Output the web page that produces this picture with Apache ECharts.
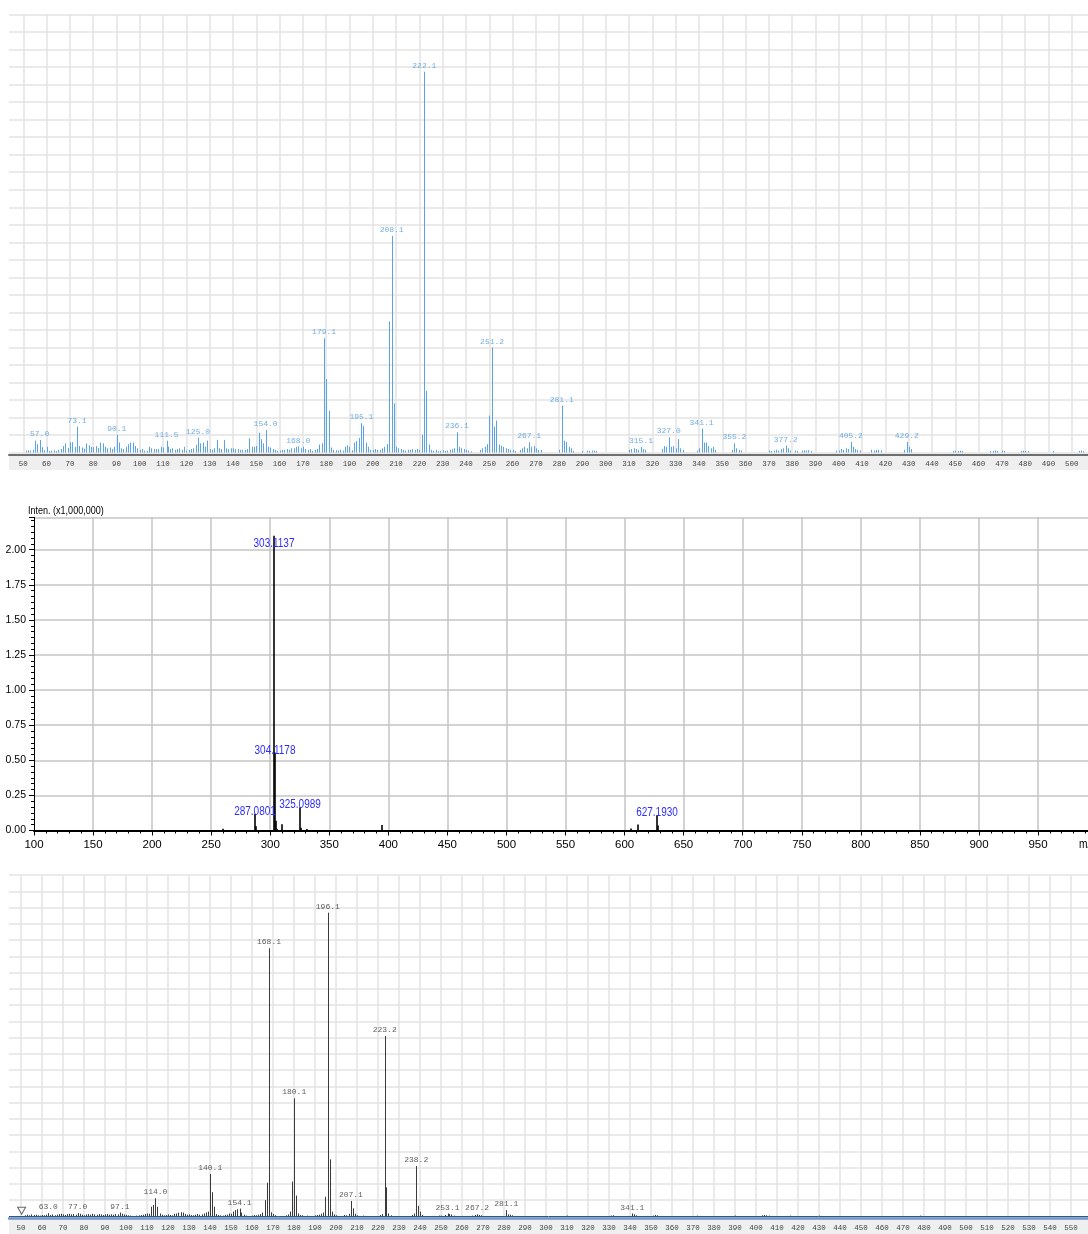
<!DOCTYPE html>
<html><head><meta charset="utf-8">
<script src="https://cdn.jsdelivr.net/npm/echarts@6.0.0/dist/echarts.min.js"></script>
<style>html,body{margin:0;padding:0;background:#fff}#c{width:1088px;height:1234px}</style>
</head><body><div id="c"></div><script>
// ---------- Panel 1 (top, blue, relative intensity %) ----------
const spec1 = [[51,0.5],[52,0.6],[53,0.5],[54,0.7],[55,3.1],[56,2.2],[57.0,3.3],[58,1.4],[59,0.6],[60,1.5],[61,0.4],[62,0.5],[63,0.6],[64,0.4],[65,0.7],[66,0.9],[67,1.7],[68,2.4],[69,1.2],[70,2.7],[71,2.7],[72,1.5],[73.1,6.8],[74,1.7],[75,1.3],[76,1.0],[77,2.4],[78,1.9],[79,1.5],[80,1.4],[81,1.7],[82,1.2],[83,2.6],[84,2.4],[85,1.5],[86,1.1],[87,1.3],[88,0.9],[89,1.5],[90.1,4.6],[91,2.6],[92,1.1],[93,0.9],[94,1.5],[95,2.2],[96,2.6],[97,2.6],[98,1.7],[99,1.1],[100,0.7],[101,0.9],[102,0.5],[103,0.4],[104,1.5],[105,1.1],[106,0.9],[107,0.9],[108,0.9],[109,1.5],[110,1.3],[111.5,3.1],[112,1.5],[113,0.9],[114,1.1],[115,0.7],[116,0.9],[117,1.1],[118,0.7],[119,1.5],[120,0.5],[121,0.7],[122,0.9],[123,1.1],[124,2.0],[125.0,3.9],[126,2.4],[127,2.6],[128,1.5],[129,3.1],[130,0.9],[131,0.7],[132,1.1],[133,3.3],[134,1.1],[135,0.9],[136,3.3],[137,1.1],[138,0.9],[139,1.1],[140,1.1],[141,0.9],[142,0.9],[143,0.7],[144,0.7],[145,0.7],[146,0.9],[147,3.7],[148,1.5],[149,1.5],[150,1.7],[151,5.2],[152,3.5],[153,2.4],[154.0,5.9],[155,1.5],[156,1.3],[157,0.9],[158,0.7],[159,0.4],[160,0.5],[161,0.7],[162,0.7],[163,0.9],[164,0.7],[165,1.1],[166,1.1],[167,1.5],[168.0,1.6],[169,1.1],[170,1.5],[171,0.9],[172,0.7],[173,0.9],[174,0.4],[175,0.7],[176,0.9],[177,2.1],[178,2.4],[179.1,30.0],[180,19.3],[181,11.0],[182,1.3],[183,0.7],[184,0.6],[185,0.5],[186,0.7],[187,0.5],[188,1.5],[189,1.9],[190,1.5],[191,0.6],[192,2.6],[193,3.0],[194,3.8],[195.1,7.7],[196,7.0],[197,2.6],[198,1.5],[199,0.7],[200,0.7],[201,0.9],[202,0.7],[203,0.7],[204,1.1],[205,1.5],[206,2.2],[207,34.4],[208.1,56.9],[209,12.9],[210,1.5],[211,1.1],[212,0.9],[213,0.7],[214,0.5],[215,0.7],[216,0.7],[217,0.9],[218,0.7],[219,0.9],[220,0.7],[221,4.6],[222.1,100],[223,16.2],[224,2.1],[225,0.7],[226,0.5],[227,0.7],[228,0.4],[229,0.4],[230,0.6],[231,0.4],[232,0.5],[233,0.7],[234,0.9],[235,1.1],[236.1,5.3],[237,1.5],[238,1.1],[239,0.9],[240,0.7],[241,0.5],[242,0.3],[246,0.7],[247,1.1],[248,1.5],[249,2.2],[250,9.7],[251.2,27.6],[252,6.8],[253,8.4],[254,2.1],[255,1.8],[256,1.5],[257,1.1],[258,0.9],[259,0.7],[260,0.7],[261,0.4],[263,0.7],[264,1.1],[265,1.5],[266,1.1],[267.1,2.7],[268,1.5],[269,1.7],[270,1.1],[271,0.7],[272,0.7],[280,0.7],[281.1,12.3],[282,3.1],[283,2.8],[284,1.5],[285,1.1],[286,0.4],[290,0.4],[292,0.5],[293,0.4],[294,0.5],[295,0.5],[296,0.4],[310,0.7],[311,0.9],[312,1.1],[313,0.9],[314,0.7],[315.1,1.5],[316,0.9],[317,0.7],[324,0.9],[325,1.7],[326,1.5],[327.0,4.0],[328,1.5],[329,1.7],[330,1.1],[331,3.5],[332,1.1],[333,0.7],[339,0.5],[340,1.1],[341.1,6.3],[342,2.6],[343,2.6],[344,1.7],[345,1.1],[346,1.5],[347,0.7],[354,0.7],[355.2,2.4],[356,1.1],[357,0.7],[358,0.5],[370,0.5],[371,0.4],[372,0.5],[373,0.7],[374,0.5],[375,0.9],[376,1.1],[377.2,1.8],[378,1.1],[379,0.5],[381,0.5],[382,0.4],[384,0.5],[385,0.6],[386,0.5],[387,0.6],[388,0.4],[399,0.5],[400,0.5],[401,0.9],[402,0.7],[403,1.1],[404,0.9],[405.2,2.8],[406,1.5],[407,0.9],[408,0.7],[409,0.5],[414,0.7],[415,0.5],[416,0.7],[417,0.7],[418,0.5],[428,0.7],[429.2,2.8],[430,1.5],[431,0.9],[449,0.4],[450,0.5],[451,0.4],[452,0.5],[453,0.4],[465,0.4],[466,0.4],[467,0.5],[468,0.4],[470,0.5],[471,0.4],[478,0.4],[479,0.5],[480,0.4],[481,0.4],[492,0.4],[503,0.4],[504,0.5],[505,0.4]];
const labels1 = ['57.0','73.1','90.1','111.5','125.0','154.0','168.0','179.1','195.1','208.1','222.1','236.1','251.2','267.1','281.1','315.1','327.0','341.1','355.2','377.2','405.2','429.2'];
const range1 = [43.86, 506.96];

// ---------- Panel 2 (middle, Inten. x1,000,000) ----------
const spec2 = [[260,0.012],[287.0801,0.12],[288.08,0.03],[303.1137,2.10],[304.1178,0.555],[305.12,0.07],[306.12,0.012],[309.6,0.045],[325.0989,0.165],[326.10,0.02],[331,0.01],[394.5,0.04],[605.5,0.015],[611.5,0.042],[627.1930,0.107],[628.2,0.035]];
const labels2 = ['287.0801','303.1137','304.1178','325.0989','627.1930'];
const range2 = [100, 992.3];

// ---------- Panel 3 (bottom, black, relative intensity %) ----------
const spec3 = [[52,0.4],[53,0.6],[54,0.4],[55,0.7],[56,0.5],[57,0.6],[58,0.4],[59,0.3],[60,0.5],[61,0.4],[62,0.6],[63.0,1.1],[64,0.5],[65,0.7],[66,0.4],[67,0.6],[68,0.8],[69,0.9],[70,0.7],[71,0.5],[72,0.8],[73,0.9],[74,0.7],[75,0.8],[76,0.6],[77.0,1.1],[78,0.9],[79,0.6],[80,0.4],[81,0.7],[82,0.8],[83,0.6],[84,0.9],[85,0.7],[86,0.6],[87,0.8],[88,0.7],[89,0.5],[90,0.7],[91,0.8],[92,0.6],[93,0.7],[94,0.6],[95,0.8],[96,0.7],[97.1,1.3],[98,0.9],[99,0.7],[100,0.5],[101,0.4],[102,0.3],[103,0.2],[105,0.3],[106,0.4],[107,0.5],[108,0.6],[109,0.8],[110,1.0],[111,0.9],[112,3.2],[113,3.8],[114.0,6.0],[115,3.2],[116,1.0],[117,0.6],[118,0.4],[119,0.5],[120,0.7],[121,0.5],[122,0.4],[123,0.9],[124,1.0],[125,1.3],[126,1.4],[127,1.3],[128,0.8],[129,0.6],[130,0.7],[131,0.5],[132,0.4],[133,0.6],[134,0.8],[135,0.6],[136,0.7],[137,1.0],[138,1.3],[139,1.6],[140.1,14.0],[141,8.0],[142,3.2],[143,0.8],[144,0.5],[145,0.4],[146,0.3],[147,0.5],[148,0.6],[149,1.0],[150,0.9],[151,1.6],[152,2.1],[153,2.4],[154.1,2.6],[155,1.3],[156,0.6],[157,0.3],[160,0.3],[161,0.5],[162,0.4],[163,0.6],[164,0.8],[165,1.3],[166,5.4],[167,11.1],[168.1,88.3],[169,1.4],[170,0.8],[171,0.4],[176,0.4],[177,0.7],[178,1.6],[179,11.5],[180.1,38.9],[181,6.9],[182,1.0],[183,0.5],[184,0.4],[186,0.3],[190,0.4],[191,0.5],[192,0.6],[193,0.9],[194,1.3],[195,6.5],[196.1,100],[197,18.8],[198,1.6],[199,0.7],[200,0.4],[204,0.5],[205,0.4],[206,0.9],[207.1,5.1],[208,2.7],[209,0.9],[210,0.4],[213,0.3],[221,0.5],[222,0.8],[223.2,59.4],[224,9.6],[225,1.0],[226,0.4],[236,0.5],[237,1.0],[238.2,16.6],[239,3.5],[240,1.6],[241,0.5],[249,0.3],[250,0.3],[252,0.5],[253.1,1.0],[254,0.8],[255,0.7],[256,0.3],[265,0.3],[266,0.5],[267.2,0.7],[268,0.5],[269,0.4],[281.1,2.1],[282,0.7],[283,0.6],[284,0.4],[310,0.3],[331,0.3],[332,0.4],[341.1,1.0],[342,0.7],[343,0.4],[351,0.3],[352,0.5],[353,0.4],[372,0.3],[390,0.3],[403,0.4],[404,0.5],[405,0.4],[406,0.3],[416,0.3],[430,0.3],[478,0.3]];
const labels3 = ['63.0','77.0','97.1','114.0','140.1','154.1','168.1','180.1','196.1','207.1','223.2','238.2','253.1','267.2','281.1','341.1'];
const marker3 = [[50.3, 1.9]];
const range3 = [44.29, 558.1];

// ---------- helpers ----------
function labelData(spec, labels) {
  return labels.map(function (t) {
    const mz = parseFloat(t);
    const p = spec.find(function (q) { return Math.abs(q[0] - mz) < 1e-6; });
    return { name: t, value: [mz, p ? p[1] : 0] };
  });
}
function stick(color, width) {
  return function (params, api) {
    const a = api.coord([api.value(0), 0]);
    const b = api.coord([api.value(0), api.value(1)]);
    const x = Math.round(a[0]) + (width === 1 ? 0.5 : 0);
    return { type: 'line', shape: { x1: x, y1: a[1], x2: x, y2: b[1] },
             style: { stroke: color, lineWidth: width } };
  };
}
const SANS = 'Liberation Sans, Arial, sans-serif';
const MONO = 'Liberation Mono, DejaVu Sans Mono, monospace';
const NARROW_X = 0.8;   // horizontal squeeze mimicking a narrow face
// Panel-2 peak labels: centred just above the peak top, kept clear of the frame top
function narrowLabel(texts) {
  return function (params, api) {
    const p = api.coord([api.value(0), api.value(1)]);
    const topLimit = params.coordSys.y + 33;
    const yb = Math.max(p[1] + 4, topLimit);
    return { type: 'text', x: Math.round(p[0]), y: yb, scaleX: NARROW_X,
             style: { text: texts[params.dataIndex], font: '12.5px ' + SANS, fill: '#2e2eff',
                      textAlign: 'center', textVerticalAlign: 'bottom' } };
  };
}
const lightGrid = { show: true, lineStyle: { color: '#e3e3e3', width: 1.5 }, showMinLine: false, showMaxLine: false };

const chart = echarts.init(document.getElementById('c'), null, { renderer: 'canvas' });
chart.setOption({
  animation: false,
  backgroundColor: '#ffffff',
  grid: [
    { left: 9, top: 14.6, width: 1079, height: 437.9, outerBoundsMode: 'none', containLabel: false },
    { left: 34, top: 517.3, width: 1054, height: 313.2, outerBoundsMode: 'none', containLabel: false },
    { left: 9, top: 875.2, width: 1079, height: 341.3, outerBoundsMode: 'none', containLabel: false }
  ],
  graphic: [
    { type: 'rect', z: -10, shape: { x: 9, y: 456, width: 1079, height: 14 }, style: { fill: '#efefef' } },
    { type: 'rect', z: -10, shape: { x: 9, y: 1220, width: 1079, height: 14 }, style: { fill: '#efefef' } },
    { type: 'line', z: 10, shape: { x1: 9, y1: 1216.5, x2: 1088, y2: 1216.5 }, style: { stroke: '#2f5487', lineWidth: 1 } },
    { type: 'text', x: 28, y: 511, scaleX: 0.82, style: { text: 'Inten. (x1,000,000)', font: '11px ' + SANS, fill: '#000', textVerticalAlign: 'middle' } },
    { type: 'text', x: 1079, y: 845, scaleX: 0.85, style: { text: 'm/z', font: '12px ' + SANS, fill: '#000', textVerticalAlign: 'middle' } }
  ],
  xAxis: [
    { type: 'value', gridIndex: 0, min: range1[0], max: range1[1], splitNumber: 46, minInterval: 10, maxInterval: 10,
      offset: 2.5, axisLine: { onZero: false, lineStyle: { color: '#6e6e6e', width: 2 } }, axisTick: { show: false },
      axisLabel: { fontFamily: MONO, fontSize: 7.5, color: '#444', margin: 5, showMinLabel: false, showMaxLabel: false },
      splitLine: lightGrid },
    { type: 'value', gridIndex: 1, min: range2[0], max: range2[1], interval: 50,
      axisLine: { onZero: false, lineStyle: { color: '#000', width: 2 } },
      axisTick: { show: true, length: 5, lineStyle: { color: '#000' } },
      minorTick: { show: true, splitNumber: 5, length: 3, lineStyle: { color: '#000' } },
      axisLabel: { fontFamily: SANS, fontSize: 11.5, color: '#000', margin: 8, showMaxLabel: false },
      splitLine: { show: true, lineStyle: { color: '#c4c4c4', width: 1.5 }, showMinLine: false, showMaxLine: false } },
    { type: 'value', gridIndex: 2, min: range3[0], max: range3[1], splitNumber: 51, minInterval: 10, maxInterval: 10,
      offset: 1.5, axisLine: { onZero: false, lineStyle: { color: '#6f93c2', width: 2.5 } }, axisTick: { show: false },
      axisLabel: { fontFamily: MONO, fontSize: 7.5, color: '#444', margin: 6, showMinLabel: false, showMaxLabel: false },
      splitLine: lightGrid }
  ],
  yAxis: [
    { type: 'value', gridIndex: 0, min: 0, max: 115, interval: 4.6,
      axisLine: { show: false }, axisTick: { show: false }, axisLabel: { show: false },
      splitLine: { show: true, lineStyle: { color: '#e3e3e3', width: 1.5 } } },
    { type: 'value', gridIndex: 1, min: 0, max: 2.231, interval: 0.25,
      axisLine: { show: true, lineStyle: { color: '#000', width: 1 } },
      axisTick: { show: true, length: 5, lineStyle: { color: '#000' } },
      minorTick: { show: true, splitNumber: 6, length: 3, lineStyle: { color: '#000' } },
      axisLabel: { fontFamily: SANS, fontSize: 10.5, color: '#000', margin: 8, showMaxLabel: false,
                   formatter: function (v) { return v.toFixed(2); } },
      splitLine: { show: true, lineStyle: { color: '#c4c4c4', width: 1.5 } } },
    { type: 'value', gridIndex: 2, min: 0, max: 112.35, interval: 5.35,
      axisLine: { show: false }, axisTick: { show: false }, axisLabel: { show: false },
      splitLine: { show: true, lineStyle: { color: '#e3e3e3', width: 1.5 } } }
  ],
  series: [
    { type: 'custom', xAxisIndex: 0, yAxisIndex: 0, data: spec1, encode: { x: 0, y: 1 }, renderItem: stick('#5aa3e6', 1), z: 3 },
    { type: 'scatter', xAxisIndex: 0, yAxisIndex: 0, data: labelData(spec1, labels1), symbolSize: 0, z: 4,
      label: { show: true, position: 'top', distance: 2, formatter: '{b}', color: '#4f98dc', fontFamily: MONO, fontSize: 8 } },
    { type: 'custom', xAxisIndex: 1, yAxisIndex: 1, data: spec2, encode: { x: 0, y: 1 }, renderItem: stick('#000000', 1.6), z: 3 },
    { type: 'custom', xAxisIndex: 1, yAxisIndex: 1, data: labelData(spec2, labels2).map(function (d) { return d.value; }),
      encode: { x: 0, y: 1 }, renderItem: narrowLabel(labels2), z: 4 },
    { type: 'custom', xAxisIndex: 2, yAxisIndex: 2, data: spec3, encode: { x: 0, y: 1 }, renderItem: stick('#3a3a3a', 1), z: 3 },
    { type: 'scatter', xAxisIndex: 2, yAxisIndex: 2, data: labelData(spec3, labels3), symbolSize: 0, z: 4,
      label: { show: true, position: 'top', distance: 2, formatter: '{b}', color: '#333', fontFamily: MONO, fontSize: 8 } },
    { type: 'scatter', xAxisIndex: 2, yAxisIndex: 2, data: marker3, symbol: 'triangle', symbolRotate: 180, symbolSize: [8, 7], z: 4,
      itemStyle: { color: '#ffffff', borderColor: '#444', borderWidth: 1 } }
  ]
});
</script></body></html>
